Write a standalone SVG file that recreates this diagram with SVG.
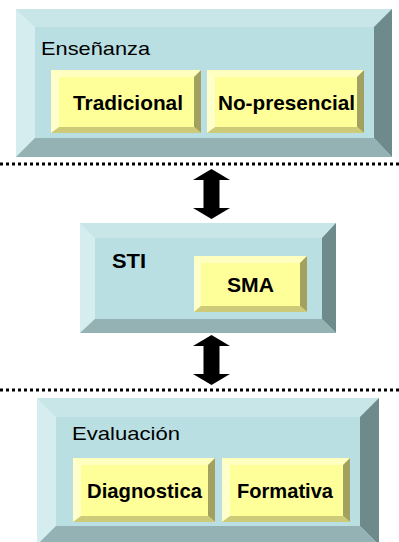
<svg xmlns="http://www.w3.org/2000/svg" width="399" height="542" viewBox="0 0 399 542">
<style>
.ft{fill:#b9dfe3}.tt{fill:#c8e5e8}.lt{fill:#d6edf0}.rt{fill:#6f8a8b}.bt{fill:#94b2b4}
.fy{fill:#ffff99}.ty{fill:#ffffbf}.ly{fill:#ffffcc}.ry{fill:#a3a15f}.by{fill:#cdcb7a}
text{font-family:"Liberation Sans",Arial,sans-serif;fill:#000}
.h{font-size:19px}
.b{font-size:21px;font-weight:bold}
.sep{stroke:#000;stroke-width:3;stroke-dasharray:3 3;fill:none}
</style>
<rect width="399" height="542" fill="#fff"/>

<g id="ensenanza">
<rect class="ft" x="16" y="9" width="376" height="148"/>
<polygon class="tt" points="16,9 392,9 374,27 35,27"/>
<polygon class="lt" points="16,9 35,27 35,138 16,157"/>
<polygon class="rt" points="392,9 392,157 374,138 374,27"/>
<polygon class="bt" points="16,157 35,138 374,138 392,157"/>
<text class="h" x="41" y="55" textLength="109" lengthAdjust="spacingAndGlyphs">Enseñanza</text>
</g>
<g id="tradicional">
<rect class="fy" x="51" y="70" width="150" height="63"/>
<polygon class="ty" points="51,70 201,70 194,77 59,77"/>
<polygon class="ly" points="51,70 59,77 59,127 51,133"/>
<polygon class="ry" points="201,70 201,133 194,127 194,77"/>
<polygon class="by" points="51,133 59,127 194,127 201,133"/>
<text class="b" x="73" y="110" textLength="110" lengthAdjust="spacingAndGlyphs">Tradicional</text>
</g>
<g id="no-presencial">
<rect class="fy" x="207" y="70" width="157" height="63"/>
<polygon class="ty" points="207,70 364,70 357,77 215,77"/>
<polygon class="ly" points="207,70 215,77 215,127 207,133"/>
<polygon class="ry" points="364,70 364,133 357,127 357,77"/>
<polygon class="by" points="207,133 215,127 357,127 364,133"/>
<text class="b" x="218" y="110" textLength="137" lengthAdjust="spacingAndGlyphs">No-presencial</text>
</g>

<g id="separators">
<line class="sep" x1="0" y1="164" x2="399" y2="164"/>
<line class="sep" x1="0" y1="390" x2="399" y2="390"/>
</g>

<g id="sti">
<rect class="ft" x="80" y="223" width="256" height="110"/>
<polygon class="tt" points="80,223 336,223 322,238 95,238"/>
<polygon class="lt" points="80,223 95,238 95,319 80,333"/>
<polygon class="rt" points="336,223 336,333 322,319 322,238"/>
<polygon class="bt" points="80,333 95,319 322,319 336,333"/>
<text class="b" x="112" y="268" font-size="17" textLength="34" lengthAdjust="spacingAndGlyphs">STI</text>
</g>
<g id="sma">
<rect class="fy" x="194" y="256" width="113" height="56"/>
<polygon class="ty" points="194,256 307,256 300,263 201,263"/>
<polygon class="ly" points="194,256 201,263 201,306 194,312"/>
<polygon class="ry" points="307,256 307,312 300,306 300,263"/>
<polygon class="by" points="194,312 201,306 300,306 307,312"/>
<text class="b" x="227" y="292" font-size="18" textLength="47" lengthAdjust="spacingAndGlyphs">SMA</text>
</g>

<g id="evaluacion">
<rect class="ft" x="37" y="398" width="342" height="146"/>
<polygon class="tt" points="37,398 379,398 360,417 56,417"/>
<polygon class="lt" points="37,398 56,417 56,526 37,545"/>
<polygon class="rt" points="379,398 379,545 360,526 360,417"/>
<polygon class="bt" points="37,545 56,526 360,526 379,545"/>
<text class="h" x="72" y="440" textLength="108" lengthAdjust="spacingAndGlyphs">Evaluación</text>
</g>
<g id="diagnostica">
<rect class="fy" x="73" y="458" width="142" height="64"/>
<polygon class="ty" points="73,458 215,458 208,465 81,465"/>
<polygon class="ly" points="73,458 81,465 81,516 73,522"/>
<polygon class="ry" points="215,458 215,522 208,516 208,465"/>
<polygon class="by" points="73,522 81,516 208,516 215,522"/>
<text class="b" x="87" y="498" textLength="115" lengthAdjust="spacingAndGlyphs">Diagnostica</text>
</g>
<g id="formativa">
<rect class="fy" x="222" y="458" width="128" height="64"/>
<polygon class="ty" points="222,458 350,458 343,465 230,465"/>
<polygon class="ly" points="222,458 230,465 230,516 222,522"/>
<polygon class="ry" points="350,458 350,522 343,516 343,465"/>
<polygon class="by" points="222,522 230,516 343,516 350,522"/>
<text class="b" x="237" y="498" textLength="96" lengthAdjust="spacingAndGlyphs">Formativa</text>
</g>

<g id="connectors" fill="#000">
<polygon points="211.5,169 230,180 219.5,180 219.5,208 230,208 211.5,219 193,208 203.5,208 203.5,180 193,180"/>
<polygon points="211.5,335 230,346 219.5,346 219.5,374 230,374 211.5,385 193,374 203.5,374 203.5,346 193,346"/>
</g>
</svg>
